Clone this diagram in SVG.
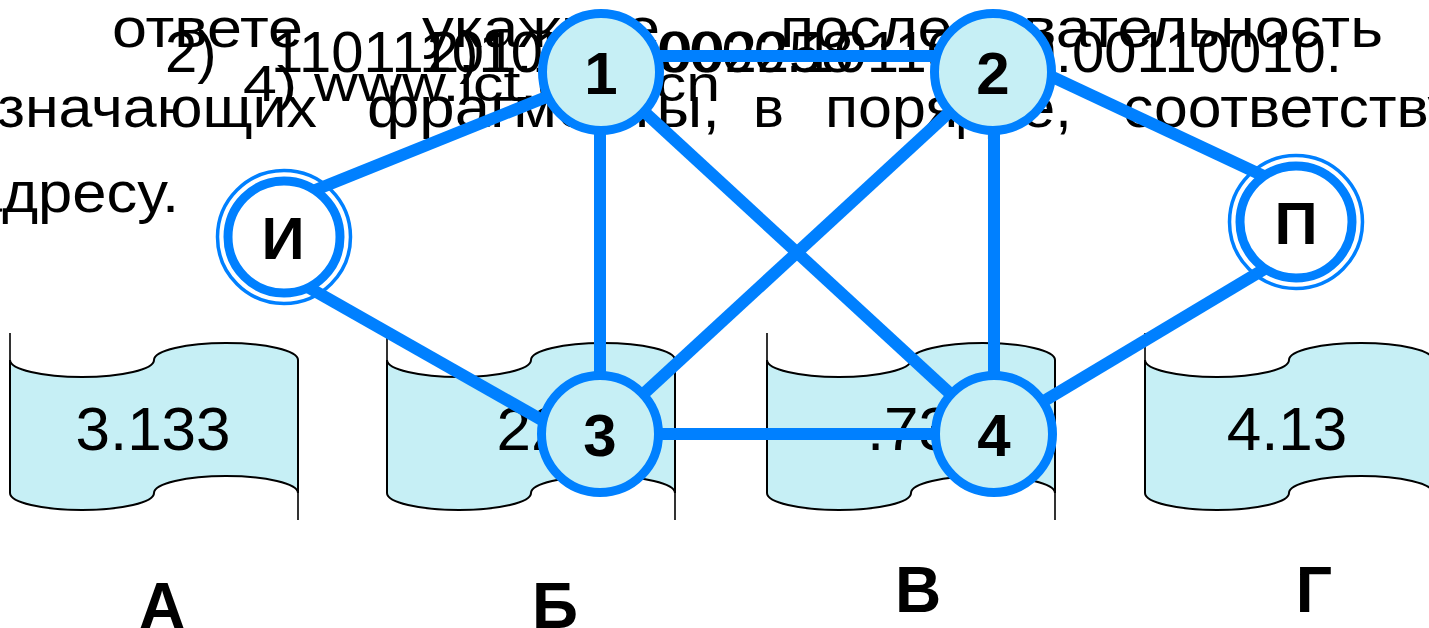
<svg xmlns="http://www.w3.org/2000/svg" width="1429" height="628" viewBox="0 0 1429 628">
<style>
.t{font-family:"Liberation Sans",Arial,sans-serif;fill:#000}
.l1{font-size:56px}
.l2{font-size:58px}
.l3{font-size:50px}
.l4{font-size:58px}
.st{font-family:"Liberation Sans",Arial,sans-serif;font-size:62px;fill:#000;text-anchor:middle}
.nl{font-family:"Liberation Sans",Arial,sans-serif;font-size:60px;font-weight:bold;fill:#000;text-anchor:middle}
.lt{font-family:"Liberation Sans",Arial,sans-serif;font-size:64px;font-weight:bold;fill:#000;text-anchor:middle}
.scroll{fill:#c6eff5;stroke:#000;stroke-width:2}
.ext{stroke:#000;stroke-width:1.6;fill:none}
.edge{stroke:#0080ff;stroke-width:12;fill:none}
.node{fill:#c6eff5;stroke:#0080ff;stroke-width:9}
.dnode{fill:#fff;stroke:#0080ff;stroke-width:9}
.thin{fill:none;stroke:#0080ff;stroke-width:3.5}
</style>
<g id="text">
<text class="t l1" x="112" y="47" textLength="191" lengthAdjust="spacingAndGlyphs">ответе</text>
<text class="t l1" x="422" y="47" textLength="238" lengthAdjust="spacingAndGlyphs">укажите</text>
<text class="t l1" x="780" y="47" textLength="603" lengthAdjust="spacingAndGlyphs">последовательность</text>
<text class="t l2" x="165" y="72">2)</text>
<text class="t l2" x="271" y="72">11011101.11000000.10110000.00110010.</text>
<text class="t l2" x="427" y="72">2)10</text>
<text class="t l2" x="660" y="72">002258</text>
<text class="t l3" x="243" y="101" textLength="477" lengthAdjust="spacingAndGlyphs">4) www.ict.edu.cn</text>
<text class="t l4" x="-105" y="127" textLength="422" lengthAdjust="spacingAndGlyphs">обозначающих</text>
<text class="t l4" x="367" y="127" textLength="353" lengthAdjust="spacingAndGlyphs">фрагменты,</text>
<text class="t l4" x="753" y="127" textLength="31" lengthAdjust="spacingAndGlyphs">в</text>
<text class="t l4" x="825" y="127" textLength="247" lengthAdjust="spacingAndGlyphs">порядке,</text>
<text class="t l4" x="1123" y="127" textLength="505" lengthAdjust="spacingAndGlyphs">соответствующем</text>
<text class="t l4" x="-32" y="212" textLength="211" lengthAdjust="spacingAndGlyphs">адресу.</text>
</g>
<g id="scroll-A">
<path class="ext" d="M10,333 L10,360 M298,493 L298,520"/>
<path class="scroll" d="M10,360 A72,17 0 0 0 154,360 A72,17 0 0 1 298,360 L298,493 A72,17 0 0 0 154,493 A72,17 0 0 1 10,493 Z"/>
<text class="st" x="153" y="450">3.133</text>
</g>
<g id="scroll-B">
<path class="ext" d="M387,333 L387,360 M675,493 L675,520"/>
<path class="scroll" d="M387,360 A72,17 0 0 0 531,360 A72,17 0 0 1 675,360 L675,493 A72,17 0 0 0 531,493 A72,17 0 0 1 387,493 Z"/>
<text class="st" x="531" y="450">22</text>
</g>
<g id="scroll-V">
<path class="ext" d="M767,333 L767,360 M1055,493 L1055,520"/>
<path class="scroll" d="M767,360 A72,17 0 0 0 911,360 A72,17 0 0 1 1055,360 L1055,493 A72,17 0 0 0 911,493 A72,17 0 0 1 767,493 Z"/>
<text class="st" x="910" y="450">.73</text>
</g>
<g id="scroll-G">
<path class="ext" d="M1145,333 L1145,360 M1433,493 L1433,520"/>
<path class="scroll" d="M1145,360 A72,17 0 0 0 1289,360 A72,17 0 0 1 1433,360 L1433,493 A72,17 0 0 0 1289,493 A72,17 0 0 1 1145,493 Z"/>
<text class="st" x="1287" y="450">4.13</text>
</g>
<g id="connectors">
<line class="edge" x1="601" y1="56" x2="993" y2="56"/>
<line class="edge" x1="283" y1="203" x2="601" y2="75"/>
<line class="edge" x1="283" y1="273" x2="600" y2="453"/>
<line class="edge" x1="600" y1="72" x2="600" y2="434"/>
<line class="edge" x1="601" y1="72" x2="994" y2="434"/>
<line class="edge" x1="993" y1="72" x2="600" y2="434"/>
<line class="edge" x1="994" y1="72" x2="994" y2="434"/>
<line class="edge" x1="993" y1="49" x2="1296" y2="191"/>
<line class="edge" x1="1296" y1="250" x2="994" y2="431"/>
<line class="edge" x1="600" y1="434" x2="994" y2="434"/>
</g>
<g id="node-1"><circle class="node" cx="601" cy="72" r="58.5"/><text class="nl" x="601" y="94">1</text></g>
<g id="node-2"><circle class="node" cx="993" cy="72" r="58.5"/><text class="nl" x="993" y="94">2</text></g>
<g id="node-3"><circle class="node" cx="600" cy="434" r="58.5"/><text class="nl" x="600" y="456">3</text></g>
<g id="node-4"><circle class="node" cx="994" cy="434" r="58.5"/><text class="nl" x="994" y="456">4</text></g>
<g id="node-I"><circle class="thin" cx="284" cy="237" r="66.5"/><circle class="dnode" cx="284" cy="237" r="56"/><text class="nl" x="283" y="259">И</text></g>
<g id="node-P"><circle class="thin" cx="1296" cy="222" r="66.5"/><circle class="dnode" cx="1296" cy="222" r="56"/><text class="nl" x="1296" y="244">П</text></g>
<g id="letters">
<text class="lt" x="162" y="628">А</text>
<text class="lt" x="555" y="628">Б</text>
<text class="lt" x="918" y="612">В</text>
<text class="lt" x="1314" y="612">Г</text>
</g>
</svg>
